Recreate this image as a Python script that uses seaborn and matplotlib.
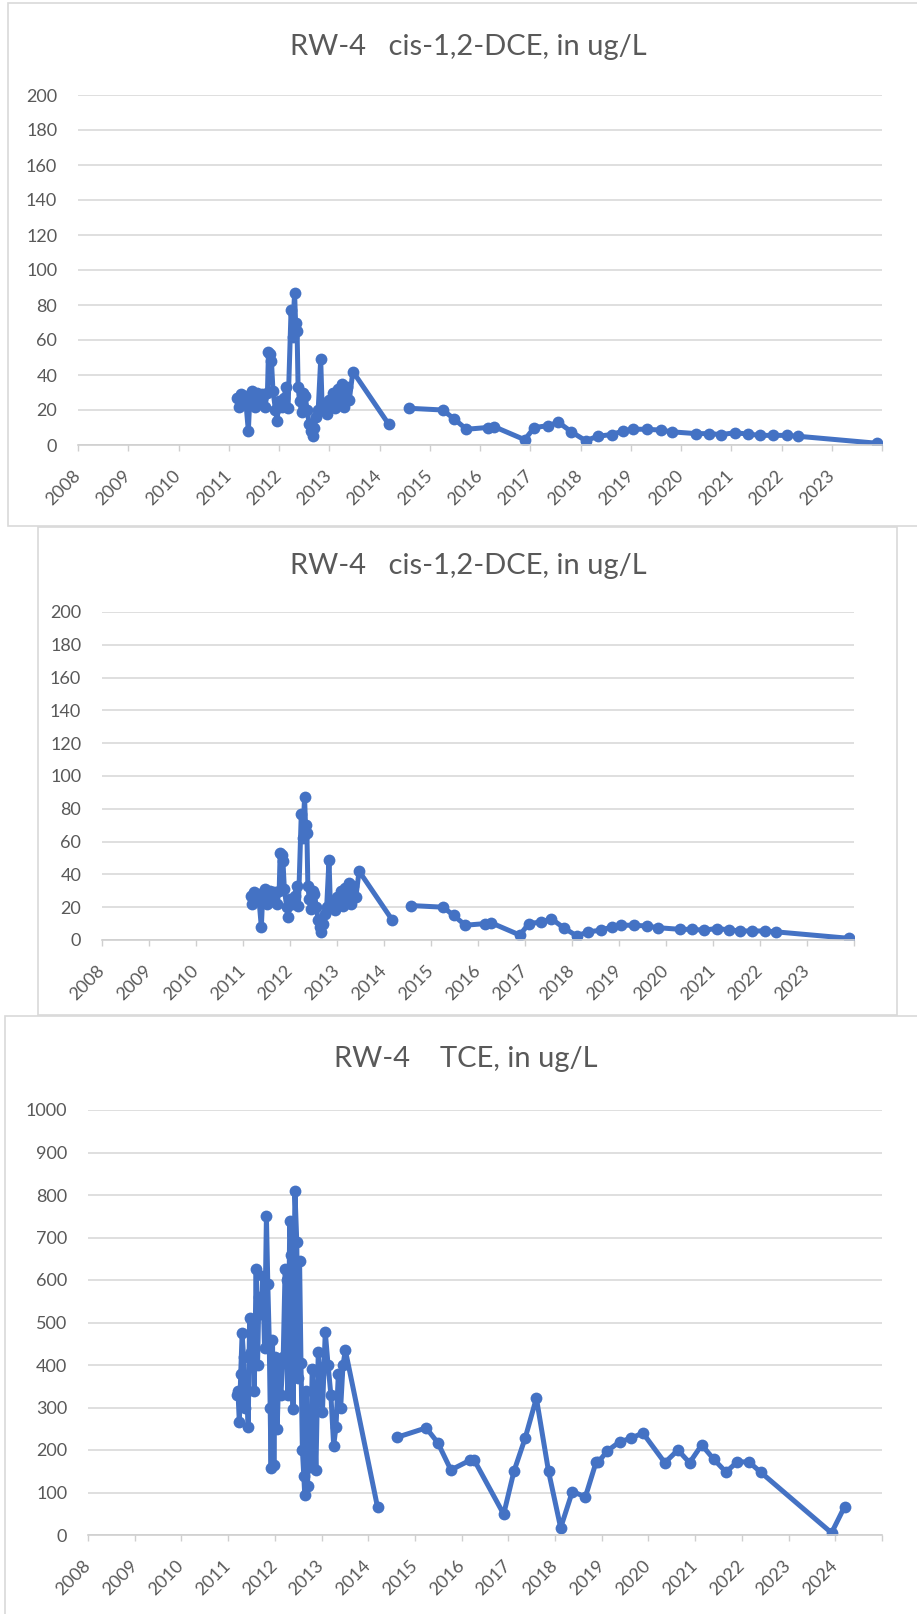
import numpy as np
import pandas as pd
import seaborn as sns
import matplotlib.pyplot as plt
from matplotlib.patches import Rectangle

# cis-1,2-DCE, ug/L (decimal year, value)
dce_year = [2011.17, 2011.20, 2011.24, 2011.28, 2011.33, 2011.39, 2011.42, 2011.47, 2011.52, 2011.57,
            2011.62, 2011.67, 2011.72, 2011.77, 2011.79, 2011.82, 2011.85, 2011.88, 2011.93, 2011.96,
            2012.00, 2012.05, 2012.10, 2012.14, 2012.18, 2012.24, 2012.27, 2012.31, 2012.33, 2012.36,
            2012.38, 2012.41, 2012.45, 2012.48, 2012.52, 2012.56, 2012.60, 2012.64, 2012.67, 2012.70,
            2012.74, 2012.78, 2012.83, 2012.86, 2012.90, 2012.95, 2013.00, 2013.04, 2013.08, 2013.12,
            2013.17, 2013.21, 2013.26, 2013.30, 2013.35, 2013.40, 2013.47, 2014.18,
            2014.58, 2015.26, 2015.48, 2015.73, 2016.15, 2016.28, 2016.89, 2017.08, 2017.35, 2017.56,
            2017.82, 2018.10, 2018.35, 2018.62, 2018.85, 2019.05, 2019.32, 2019.60, 2019.83, 2020.30,
            2020.55, 2020.80, 2021.08, 2021.34, 2021.58, 2021.84, 2022.10, 2022.33, 2023.90]
dce_val = [27, 22, 29, 25, 28, 8, 27, 31, 22, 30,
           24, 29, 22, 30, 53, 52, 48, 31, 20, 14,
           25, 22, 27, 33, 21, 77, 62, 87, 70, 65,
           33, 25, 19, 30, 28, 20, 12, 8, 5, 10,
           16, 20, 49, 20, 24, 18, 26, 22, 30, 21,
           32, 25, 35, 22, 33, 26, 42, 12,
           21, 20, 15, 9, 10, 10.5, 3, 10, 11, 13,
           7.5, 2.5, 5, 6, 8, 9, 9, 8.5, 7.5, 6.5,
           6.5, 6, 7, 6.2, 5.5, 5.5, 5.5, 5, 1]

# TCE, ug/L
tce_year = [2011.18, 2011.21, 2011.24, 2011.27, 2011.30, 2011.33, 2011.36, 2011.40, 2011.43, 2011.46,
            2011.50, 2011.53, 2011.56, 2011.60, 2011.63, 2011.66, 2011.70, 2011.74, 2011.78, 2011.82,
            2011.85, 2011.88, 2011.90, 2011.92, 2011.95, 2011.98, 2012.01, 2012.05, 2012.09, 2012.13,
            2012.18, 2012.22, 2012.25, 2012.28, 2012.32, 2012.35, 2012.39, 2012.43, 2012.47, 2012.50,
            2012.53, 2012.56, 2012.59, 2012.62, 2012.64, 2012.67, 2012.70, 2012.73, 2012.76, 2012.80,
            2012.84, 2012.88, 2012.93, 2012.97, 2013.02, 2013.08, 2013.14, 2013.20, 2013.26, 2013.31,
            2013.36, 2013.41, 2013.46, 2013.51, 2014.20,
            2014.62, 2015.24, 2015.49, 2015.77, 2016.18, 2016.27, 2016.90, 2017.12, 2017.36, 2017.60,
            2017.86, 2018.12, 2018.37, 2018.65, 2018.88, 2018.93, 2019.12, 2019.38, 2019.63, 2019.88,
            2020.35, 2020.63, 2020.88, 2021.14, 2021.40, 2021.66, 2021.90, 2022.15, 2022.40, 2023.92,
            2024.20]
tce_val = [330, 340, 265, 380, 475, 420, 300, 340, 255, 510,
           430, 500, 340, 625, 400, 560, 520, 610, 440, 750,
           590, 460, 300, 158, 460, 165, 420, 250, 400, 330,
           420, 625, 600, 330, 740, 660, 297, 810, 690, 370,
           645, 405, 200, 140, 95, 340, 115, 240, 160, 390,
           290, 153, 430, 380, 290, 478, 400, 330, 210, 255,
           380, 300, 400, 435, 65,
           230, 252, 217, 153, 176, 176, 49, 150, 228, 322,
           150, 17, 102, 90, 172, 172, 198, 219, 228, 240,
           170, 200, 170, 212, 178, 148, 172, 172, 148, 5,
           67]

W, H = 917, 1614
blue = '#4472c4'
grey = '#595959'
light = '#d9d9d9'

sns.set_theme(style='white')
plt.rcParams['font.family'] = ['Lato', 'DejaVu Sans']

fig = plt.figure(figsize=(W / 100, H / 100), dpi=100)


def px_box(l, t, w, h):
    return [l / W, 1 - (t + h) / H, w / W, h / H]


# chart frames (Excel chart areas)
for l, t, w, h in [(8, 3, 930, 523), (38, 527, 859, 488), (5, 1016, 930, 620)]:
    fig.add_artist(Rectangle((l / W, 1 - (t + h) / H), w / W, h / H, transform=fig.transFigure,
                             facecolor='white', edgecolor=light, lw=1.2, zorder=-5))


def draw(ax, years, vals, ymax, ystep, xmax, labeled_last):
    df = pd.DataFrame({'year': years, 'val': vals})
    df['part'] = np.where(df['year'] > 2014.4, 1, 0)
    sns.lineplot(data=df, x='year', y='val', units='part', estimator=None, color=blue,
                 lw=3.6, marker='o', markersize=8.5, markeredgewidth=0, legend=False, ax=ax)
    ax.set_facecolor('none')
    ax.set(xlabel='', ylabel='')
    ax.set_xlim(2008, xmax)
    ax.set_ylim(0, ymax)
    ax.set_yticks(np.arange(0, ymax + 1, ystep))
    ticks = list(range(2008, xmax + 1))
    ax.set_xticks(ticks)
    ax.set_xticklabels([str(t) if t <= labeled_last else '' for t in ticks])
    ax.yaxis.grid(True, color=light, lw=1.2)
    ax.set_axisbelow(True)
    for s in ['top', 'right', 'left']:
        ax.spines[s].set_visible(False)
    ax.spines['bottom'].set_color('#cfcfcf')
    ax.spines['bottom'].set_linewidth(1.2)
    ax.tick_params(axis='y', length=0, pad=15, labelsize=13, labelcolor=grey)
    ax.tick_params(axis='x', length=4, width=1, color='#cfcfcf', direction='out', pad=16,
                   labelsize=13, labelcolor=grey, bottom=True)
    for lab in ax.get_xticklabels():
        lab.set_rotation(45)
        lab.set_ha('right')
        lab.set_va('center')
        lab.set_rotation_mode('anchor')


ax1 = fig.add_axes(px_box(78, 95, 804, 350))
draw(ax1, dce_year, dce_val, 200, 20, 2024, 2023)
ax2 = fig.add_axes(px_box(102, 612, 752, 328))
draw(ax2, dce_year, dce_val, 200, 20, 2024, 2023)
ax3 = fig.add_axes(px_box(88, 1110, 794, 425))
draw(ax3, tce_year, tce_val, 1000, 100, 2025, 2024)

fig.text(468 / W, 1 - 47 / H, 'RW-4   cis-1,2-DCE, in ug/L', ha='center', va='center', fontsize=21, color=grey)
fig.text(468 / W, 1 - 566 / H, 'RW-4   cis-1,2-DCE, in ug/L', ha='center', va='center', fontsize=21, color=grey)
fig.text(466 / W, 1 - 1059 / H, 'RW-4    TCE, in ug/L', ha='center', va='center', fontsize=21, color=grey)

fig.savefig('out.png', dpi=100)
